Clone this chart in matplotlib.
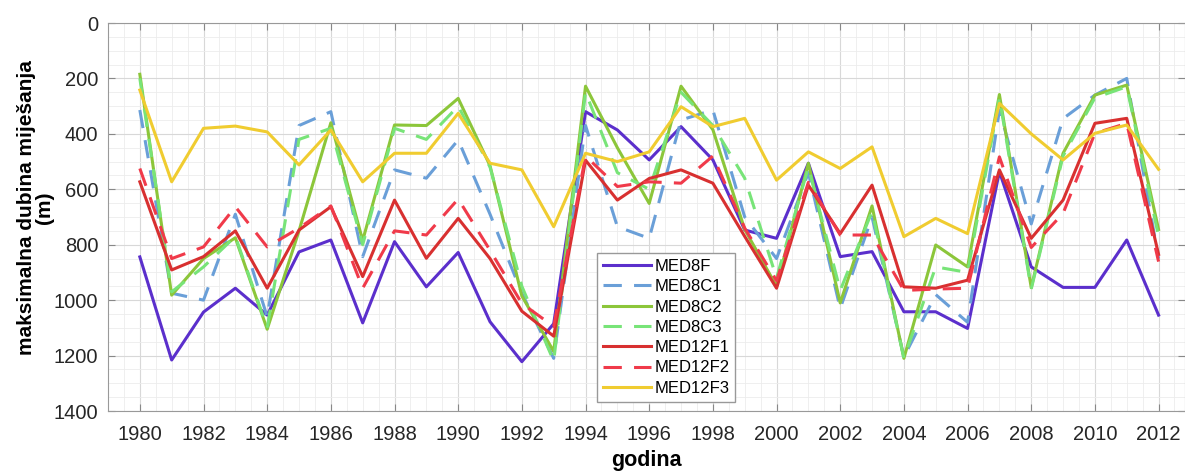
import matplotlib.pyplot as plt
from matplotlib.ticker import MultipleLocator, AutoMinorLocator

plt.rcParams['font.family'] = ['Liberation Sans', 'DejaVu Sans']

years = list(range(1980, 2013))

med8f = [844, 1216, 1043, 957, 1054, 826, 783, 1082, 789, 952, 828, 1078, 1222, 1085,
         320, 386, 494, 374, 494, 747, 777, 506, 843, 825, 1042, 1042, 1102, 536, 880,
         954, 954, 783, 1054]
med8c1 = [314, 975, 1000, 690, 1060, 370, 320, 843, 530, 560, 422, 690, 975, 1210,
          370, 735, 777, 350, 314, 700, 850, 540, 1030, 700, 1205, 980, 1080, 314, 725,
          345, 260, 200, 850]
med8c2 = [185, 982, 850, 775, 1105, 750, 360, 785, 368, 370, 272, 515, 985, 1185,
          228, 450, 651, 228, 385, 745, 950, 506, 1010, 660, 1210, 801, 880, 258, 955,
          470, 260, 224, 745]
med8c3 = [200, 970, 880, 770, 1100, 420, 380, 800, 380, 420, 300, 520, 950, 1220,
          250, 540, 600, 250, 370, 560, 920, 520, 965, 680, 1210, 880, 900, 270, 960,
          480, 270, 230, 770]
med12f1 = [573, 891, 843, 750, 957, 747, 663, 915, 639, 849, 705, 850, 1040, 1130,
           495, 639, 561, 530, 578, 770, 957, 585, 760, 585, 952, 957, 928, 530, 777,
           639, 362, 344, 835]
med12f2 = [525, 850, 808, 663, 808, 740, 660, 957, 750, 765, 635, 820, 1012, 1095,
           480, 590, 573, 578, 480, 740, 930, 575, 765, 765, 965, 960, 957, 483, 810,
           687, 398, 362, 861]
med12f3 = [242, 573, 380, 372, 393, 512, 386, 573, 470, 470, 326, 506, 530, 735,
           470, 500, 465, 302, 374, 344, 567, 465, 525, 447, 771, 705, 760, 290, 400,
           494, 398, 368, 528]

labels = ['MED8F', 'MED8C1', 'MED8C2', 'MED8C3', 'MED12F1', 'MED12F2', 'MED12F3']
series = [med8f, med8c1, med8c2, med8c3, med12f1, med12f2, med12f3]
colors = ['#5b2fcc', '#6a9fd8', '#8cc63a', '#78e478', '#d83030', '#f03a4a', '#f0cc30']
styles = ['-', '--', '-', '--', '-', '--', '-']

fig = plt.figure(figsize=(11.85, 4.73), dpi=100)
ax = fig.add_axes([108 / 1185, 1 - 411 / 473, 1 - 108 / 1185, (411 - 23) / 473])

for vals, lab, c, ls in zip(series, labels, colors, styles):
    ax.plot(years, vals, color=c, linestyle=ls, linewidth=2.2, label=lab,
            dashes=(6, 4) if ls == '--' else (None, None))

ax.set_xlim(1979, 2012.83)
ax.set_ylim(1400, 0)
ax.xaxis.set_major_locator(MultipleLocator(2))
ax.yaxis.set_major_locator(MultipleLocator(200))
ax.xaxis.set_minor_locator(AutoMinorLocator(4))
ax.yaxis.set_minor_locator(AutoMinorLocator(4))
ax.grid(True, which='major', color='#d8d8d8', linewidth=0.8)
ax.grid(True, which='minor', color='#ececec', linewidth=0.6)
ax.set_axisbelow(True)
ax.tick_params(which='major', direction='in', top=True, right=True, length=5,
               color='#888888', labelsize=14.5, labelcolor='#262626')
ax.tick_params(axis='x', which='major', pad=10)
ax.tick_params(axis='y', which='major', pad=7)
ax.tick_params(which='minor', length=0)
for s in ax.spines.values():
    s.set_color('#999999')

ax.set_xlabel('godina', fontsize=15.5, fontweight='bold')
ax.xaxis.set_label_coords(0.5, -0.1)
ax.set_ylabel('maksimalna dubina miješanja\n(m)', fontsize=15, fontweight='bold',
              linespacing=0.95)
ax.yaxis.set_label_coords(-0.05, 0.525)

ax.legend(loc='upper left', bbox_to_anchor=(597 / 1185, 1 - 253 / 473),
          bbox_transform=fig.transFigure, borderaxespad=0, fontsize=12,
          handlelength=2.9, labelspacing=0.32, handletextpad=0.2, borderpad=0.35,
          fancybox=False, framealpha=1, edgecolor='#999999')

fig.savefig('out.png', dpi=100)
